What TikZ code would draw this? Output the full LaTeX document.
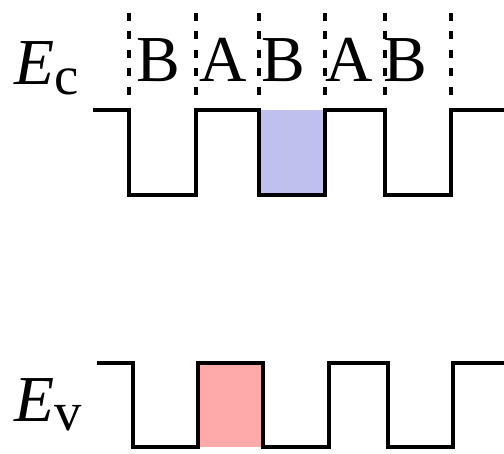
\documentclass[tikz,border=0pt]{standalone}
\usepackage{amsmath}
\usepackage{fontspec}
\setmainfont{Liberation Serif}
\definecolor{wellblue}{RGB}{192,192,238}
\definecolor{holepink}{RGB}{255,170,170}
\begin{document}
\begin{tikzpicture}[line join=miter, >=stealth, scale=1,
  band/.style={line width=2pt},
  layer/.style={line width=2.2pt, dash pattern=on 4.5pt off 6pt},
  lbl/.style={font=\Huge, scale=1.5, inner sep=0pt, anchor=base}]
\useasboundingbox (0,0) rectangle (10.08,9.06);
% filled wells
\fill[wellblue] (5.18,6.86) rectangle (6.5,5.16);
\fill[holepink] (3.96,1.8) rectangle (5.26,0.12);
% conduction band
\draw[band] (1.86,6.86)--(2.58,6.86)--(2.58,5.16)--(3.92,5.16)--(3.92,6.86)--(5.18,6.86)--(5.18,5.16)--(6.5,5.16)--(6.5,6.86)--(7.7,6.86)--(7.7,5.16)--(9.02,5.16)--(9.02,6.86)--(10.08,6.86);
% valence band
\draw[band] (1.94,1.8)--(2.66,1.8)--(2.66,0.12)--(3.96,0.12)--(3.96,1.8)--(5.26,1.8)--(5.26,0.12)--(6.58,0.12)--(6.58,1.8)--(7.76,1.8)--(7.76,0.12)--(9.06,0.12)--(9.06,1.8)--(10.08,1.8);
% layer boundaries
\foreach \x in {2.58,3.92,5.18,6.5,7.7,9.02}{
\draw[layer] (\x,8.8)--(\x,7.1);
}
\node[lbl] (b1) at (3.16,7.42) {B};
\node[lbl] (a1) at (4.46,7.42) {A};
\node[lbl] (b2) at (5.66,7.42) {B};
\node[lbl] (a2) at (6.98,7.42) {A};
\node[lbl] (b3) at (8.1,7.42) {B};
\node[lbl] (ec) at (0.95,7.36) {$\textit{E}_{\text{c}}$};
\node[lbl] (ev) at (0.98,0.64) {$\textit{E}_{\text{v}}$};
\end{tikzpicture}
\end{document}
